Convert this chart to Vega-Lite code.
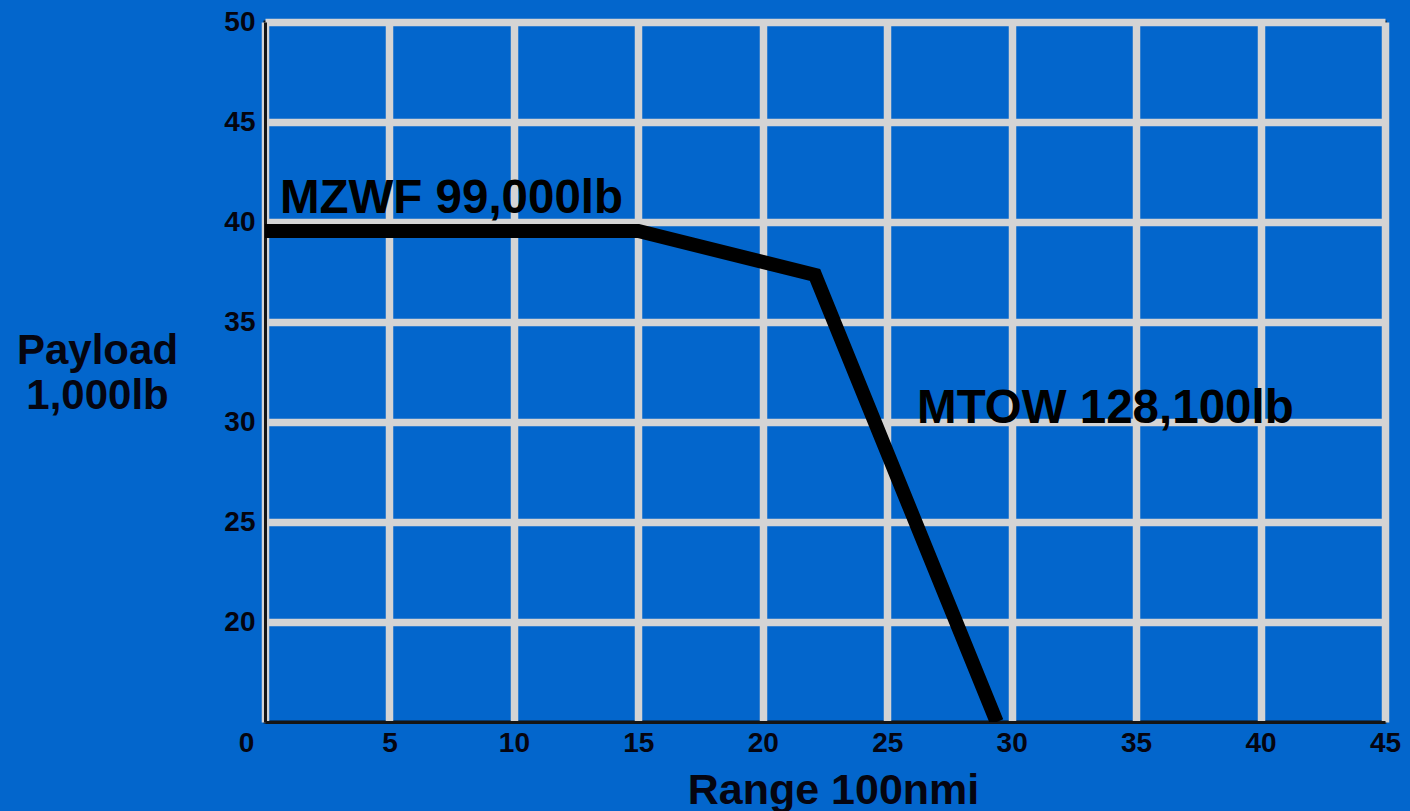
{
  "$schema": "https://vega.github.io/schema/vega-lite/v6.json",
  "autosize": "none",
  "width": 1120,
  "height": 700,
  "padding": {"left": 265, "top": 22, "right": 25, "bottom": 89},
  "background": "#0366CC",
  "config": {
    "font": "Liberation Sans",
    "view": {"stroke": "#111111", "strokeWidth": 3, "fill": "#0366CC"},
    "axis": {
      "labelFont": "Liberation Sans",
      "labelFontWeight": "bold",
      "labelColor": "#050510",
      "titleFont": "Liberation Sans",
      "titleFontWeight": "bold",
      "titleColor": "#050510",
      "gridColor": "#D4D4D4",
      "gridWidth": 7.5,
      "gridOpacity": 1,
      "domainColor": "#151515",
      "domainWidth": 3,
      "ticks": false,
      "labelFlush": false
    }
  },
  "datasets": {
    "curve": [
      {"range": 0, "payload": 39.55},
      {"range": 15, "payload": 39.55},
      {"range": 22.1, "payload": 37.35},
      {"range": 29.4, "payload": 15}
    ],
    "labels": [
      {"range": 0.6, "payload": 40.45, "text": "MZWF 99,000lb"},
      {"range": 26.2, "payload": 29.95, "text": "MTOW 128,100lb"}
    ]
  },
  "layer": [
    {
      "data": {"name": "curve"},
      "mark": {"type": "line", "color": "#000000", "strokeWidth": 14, "strokeJoin": "miter", "clip": true},
      "encoding": {
        "x": {
          "field": "range", "type": "quantitative",
          "scale": {"domain": [0, 45], "nice": false, "zero": false},
          "axis": {
            "values": [0, 5, 10, 15, 20, 25, 30, 35, 40, 45],
            "labelFontSize": 28,
            "labelPadding": 7,
            "labelOffset": {"condition": {"test": "datum.value === 0", "value": -19}, "value": 0},
            "title": "Range 100nmi",
            "titleFontSize": 43,
            "titleX": 568,
            "titleY": 81,
            "titleAlign": "center",
            "titleBaseline": "alphabetic"
          }
        },
        "y": {
          "field": "payload", "type": "quantitative",
          "scale": {"domain": [15, 50], "nice": false, "zero": false},
          "axis": {
            "values": [20, 25, 30, 35, 40, 45, 50],
            "labelFontSize": 28,
            "labelPadding": 10,
            "title": ["Payload", "1,000lb"],
            "titleFontSize": 42,
            "titleAngle": 0,
            "titleAlign": "center",
            "titleBaseline": "alphabetic",
            "titleLineHeight": 45,
            "titleX": -168,
            "titleY": 341
          }
        }
      }
    },
    {
      "data": {"name": "labels"},
      "mark": {"type": "text", "align": "left", "baseline": "alphabetic", "fontSize": 47.5, "fontWeight": "bold", "font": "Liberation Sans", "color": "#000000"},
      "encoding": {
        "x": {"field": "range", "type": "quantitative"},
        "y": {"field": "payload", "type": "quantitative"},
        "text": {"field": "text"}
      }
    }
  ]
}
